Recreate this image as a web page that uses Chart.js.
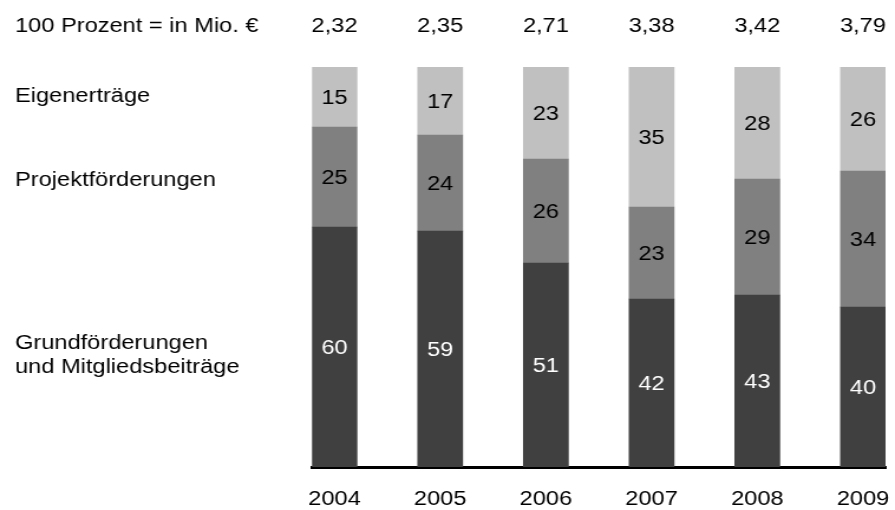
<!DOCTYPE html>
<html>
<head>
<meta charset="utf-8">
<script src="https://cdn.jsdelivr.net/npm/chart.js@4/dist/chart.umd.min.js"></script>
<style>
  html, body { margin: 0; padding: 0; background: #fff; overflow: hidden; }
  /* the figure is laid out on a narrower canvas and widened horizontally */
  #wrap { width: 758px; height: 510px; transform: scaleX(1.1807); transform-origin: 0 0; }
</style>
</head>
<body>
<div id="wrap"><canvas id="c" width="758" height="510"></canvas></div>
<script>
// Financing structure per year, shares in percent
const years = ['2004', '2005', '2006', '2007', '2008', '2009'];
const totals = ['2,32', '2,35', '2,71', '3,38', '3,42', '3,79'];   // 100 % = Mio. €
const grundfoerderungen = [60, 59, 51, 42, 43, 40];
const projektfoerderungen = [25, 24, 26, 23, 29, 34];
const eigenertraege = [15, 17, 23, 35, 28, 26];

const seriesNames = [
  ['Grundförderungen', 'und Mitgliedsbeiträge'],
  ['Projektförderungen'],
  ['Eigenerträge']
];
const totalsCaption = '100 Prozent = in Mio. €';

const FONT = '"Liberation Sans", Arial, Helvetica, sans-serif';
const series = [grundfoerderungen, projektfoerderungen, eigenertraege];
const fills = ['#404040', '#808080', '#c0c0c0'];
const valueColors = ['#ffffff', '#000000', '#000000'];

const toPoints = (arr) => arr.map((v, i) => ({ x: i, y: v }));

const annotate = {
  id: 'annotate',
  afterDatasetsDraw(chart) {
    const ctx = chart.ctx;
    ctx.save();
    ctx.font = '20px ' + FONT;
    ctx.textBaseline = 'alphabetic';

    // values inside the segments
    ctx.textAlign = 'center';
    chart.data.datasets.forEach((ds, di) => {
      const meta = chart.getDatasetMeta(di);
      meta.data.forEach((bar, i) => {
        const cy = (bar.y + bar.base) / 2;
        ctx.fillStyle = valueColors[di];
        ctx.fillText(String(series[di][i]), bar.x, cy + 7.2);
      });
    });

    // totals above each column
    ctx.fillStyle = '#000';
    chart.getDatasetMeta(0).data.forEach((bar, i) => {
      ctx.fillText(totals[i], bar.x, 32);
    });

    // row captions on the left
    ctx.textAlign = 'left';
    const x = 12.7;
    ctx.fillText(totalsCaption, x, 32);
    ctx.fillText(seriesNames[2][0], x, 102.3);
    ctx.fillText(seriesNames[1][0], x, 186);
    ctx.fillText(seriesNames[0][0], x, 349.3);
    ctx.fillText(seriesNames[0][1], x, 373.3);
    ctx.restore();
  }
};

new Chart(document.getElementById('c'), {
  type: 'bar',
  data: {
    datasets: series.map((s, i) => ({
      label: seriesNames[i].join(' '),
      data: toPoints(s),
      backgroundColor: fills[i],
      borderWidth: 0,
      barThickness: 38.1
    }))
  },
  options: {
    responsive: false,
    animation: false,
    events: [],
    layout: { padding: { left: 264.25, right: 8, top: 67, bottom: -21 } },
    plugins: { legend: { display: false }, tooltip: { enabled: false } },
    scales: {
      x: {
        type: 'linear',
        stacked: true,
        offset: false,
        min: -0.2128,
        max: 5.2133,
        afterBuildTicks: (axis) => { axis.ticks = years.map((_, i) => ({ value: i })); },
        grid: { display: false, drawTicks: false },
        border: { display: true, color: '#000', width: 3 },
        ticks: {
          autoSkip: false,
          maxRotation: 0,
          padding: 0,
          color: '#000',
          font: { family: FONT, size: 20, lineHeight: 3.2 },
          callback: (v) => years[v]
        }
      },
      y: {
        stacked: true,
        display: false,
        min: 0,
        max: 100
      }
    }
  },
  plugins: [annotate]
});
</script>
</body>
</html>
